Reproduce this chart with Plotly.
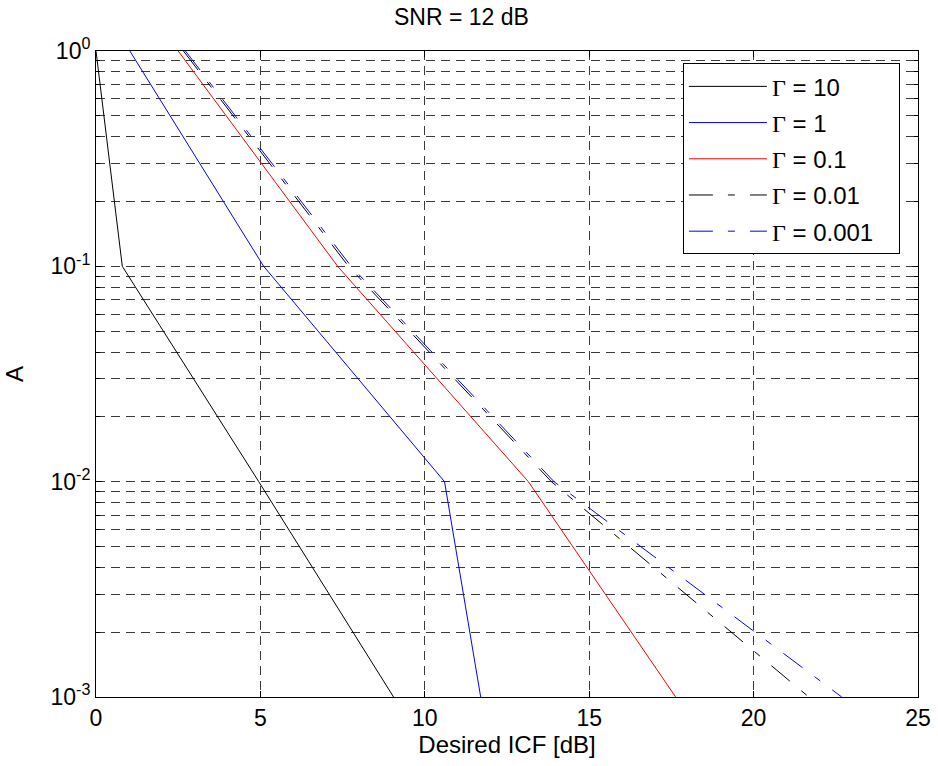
import plotly.graph_objects as go

# Data (x = Desired ICF [dB], y = A)
g10_x = [0.0, 0.8, 4.95, 9.05]
g10_y = [1.0, 0.1, 0.01, 0.001]

g1_x = [1.03, 5.1, 10.6, 11.7]
g1_y = [1.0, 0.1, 0.01, 0.001]

g01_x = [2.5, 7.35, 13.15, 17.63]
g01_y = [1.0, 0.1, 0.01, 0.001]

g001_x = [2.66, 7.68, 13.85, 21.68]
g001_y = [1.0, 0.1, 0.01, 0.001]

g0001_x = [2.72, 7.76, 13.93, 22.68]
g0001_y = [1.0, 0.1, 0.01, 0.001]

names = ["10", "1", "0.1", "0.01", "0.001"]
xs = [g10_x, g1_x, g01_x, g001_x, g0001_x]
ys = [g10_y, g1_y, g01_y, g001_y, g0001_y]
colors = ["#000000", "#0000ff", "#ff0000", "#000000", "#0000ff"]
dashes = ["solid", "solid", "solid", "24px,15px,7px,15px", "24px,15px,7px,15px"]

x_ticks = [0, 5, 10, 15, 20, 25]
y_ticks = [1e-3, 1e-2, 1e-1, 1]
y_ticktext = ["10<sup>-3</sup>", "10<sup>-2</sup>", "10<sup>-1</sup>", "10<sup>0</sup>"]
y_minor = [m * 10.0 ** e for e in (-3, -2, -1) for m in range(2, 10)]

FONT = "Liberation Sans, Arial, sans-serif"

fig = go.Figure()
for i, (n, x, y, c, d) in enumerate(zip(names, xs, ys, colors, dashes)):
    pad = "&nbsp;" * 3 if i == 4 else ""
    fig.add_trace(go.Scatter(
        x=x, y=y, mode="lines",
        name='<span style="font-family:Liberation Serif">Γ</span> = ' + n + pad,
        legendgroup=f"g{i}",
        line=dict(color=c, width=1, dash=d),
    ))

grid_dash = "9px,6px"
grid_col = "#3a3a3a"

fig.add_annotation(text="SNR = 12 dB", xref="paper", yref="paper",
                   x=(461 - 96) / 821.5, y=1 + (51 - 17) / 645.7,
                   xanchor="center", yanchor="middle", showarrow=False,
                   font=dict(size=23, family=FONT, color="black"))

fig.update_layout(
    width=938, height=766,
    margin=dict(l=96, r=20, t=51, b=69, autoexpand=False),
    paper_bgcolor="white", plot_bgcolor="white",
    font=dict(family=FONT, size=23, color="black"),
    showlegend=True,
    legend=dict(x=0.714, y=0.981, xanchor="left", yanchor="top",
                bgcolor="white", bordercolor="black", borderwidth=1,
                font=dict(size=24, family=FONT), traceorder="grouped",
                tracegroupgap=2, itemwidth=78),
    xaxis=dict(
        range=[0, 25], tickmode="array", tickvals=x_ticks,
        ticks="inside", ticklen=6, tickcolor="black",
        showline=True, linecolor="black", linewidth=1, mirror="ticks",
        showgrid=True, gridcolor=grid_col, griddash=grid_dash, gridwidth=1,
        zeroline=False,
        title=dict(text="Desired ICF [dB]", standoff=5, font=dict(size=24)),
        tickfont=dict(size=23),
    ),
    yaxis=dict(
        type="log", range=[-3, 0], tickmode="array", tickvals=y_ticks, ticktext=y_ticktext,
        ticks="inside", ticklen=6, tickcolor="black",
        showline=True, linecolor="black", linewidth=1, mirror="ticks",
        showgrid=True, gridcolor=grid_col, griddash=grid_dash, gridwidth=1,
        zeroline=False,
        minor=dict(tickmode="array", tickvals=y_minor, ticks="inside", ticklen=4,
                   tickcolor="black", showgrid=True, gridcolor=grid_col,
                   griddash=grid_dash, gridwidth=1),
        title=dict(text="A", standoff=20, font=dict(size=24)),
        tickfont=dict(size=23),
    ),
)

fig.write_html("out.html")
